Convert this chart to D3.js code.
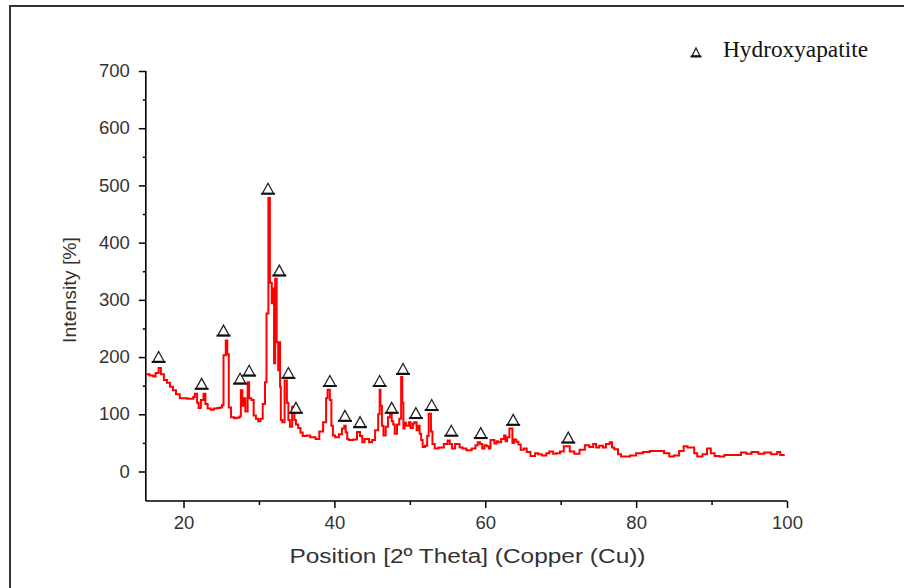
<!DOCTYPE html>
<html>
<head>
<meta charset="utf-8">
<script src="https://cdn.jsdelivr.net/npm/d3@7"></script>
<style>
  html, body { margin: 0; padding: 0; background: #fff; }
  svg { display: block; }
</style>
</head>
<body>
<svg id="chart" width="904" height="588"></svg>
<script>
// ---- data ----
const xTicks = [20, 40, 60, 80, 100];
const xMinorTicks = [30, 50, 70, 90];
const yTicks = [0, 100, 200, 300, 400, 500, 600, 700];
const yMinorTicks = [50, 150, 250, 350, 450, 550, 650];

const theta = [15.0,15.5,16.0,16.3,16.7,17.0,17.4,17.8,18.2,18.6,19.0,19.5,20.0,20.5,21.0,21.3,21.5,21.8,22.0,22.3,22.65,22.9,23.2,23.6,24.0,24.5,24.8,25.1,25.3,25.6,25.8,26.0,26.3,26.7,27.0,27.4,27.6,27.8,28.0,28.2,28.5,28.7,29.0,29.3,29.6,29.9,30.2,30.5,30.8,31.0,31.25,31.45,31.7,31.85,32.0,32.15,32.35,32.55,32.65,32.8,32.9,33.1,33.4,33.7,33.9,34.1,34.4,34.7,34.9,35.2,35.5,35.8,36.3,36.8,37.5,38.0,38.5,38.9,39.1,39.4,39.6,39.8,40.1,40.6,41.0,41.3,41.5,41.7,41.9,42.5,43.0,43.4,43.7,44.0,44.6,45.0,45.4,45.8,46.0,46.1,46.3,46.5,46.8,47.1,47.4,47.6,47.8,48.0,48.3,48.6,48.85,49.0,49.15,49.3,49.5,49.9,50.1,50.4,50.6,50.9,51.1,51.3,51.5,51.7,52.0,52.3,52.5,52.8,53.0,53.3,53.8,54.5,55.0,55.3,55.6,56.0,56.6,57.0,57.5,58.2,58.7,59.0,59.3,59.6,59.9,60.2,60.5,60.7,61.2,61.5,61.7,62.1,62.5,62.7,62.9,63.2,63.6,63.8,64.1,64.4,64.7,65.1,65.5,66.0,66.6,67.0,67.5,68.1,68.5,69.0,69.4,69.9,70.4,71.2,71.8,72.5,73.2,73.8,74.3,74.7,75.1,75.6,76.0,76.5,76.8,77.1,77.6,78.0,78.4,79.2,80.0,80.9,81.8,82.9,83.7,84.4,85.0,85.7,86.3,86.8,87.7,88.1,88.8,89.4,89.9,90.4,91.0,91.7,92.6,93.9,94.6,95.3,96.2,97.0,97.9,98.7,99.1,99.7];
const intensity = [170,168,166,172,181,170,160,155,148,142,135,128,128,127,127,130,136,120,111,125,136,118,110,108,110,111,112,116,203,229,205,112,95,93,94,96,142,115,128,105,156,128,125,98,92,88,92,118,156,276,478,330,294,320,189,337,226,177,226,148,90,86,159,120,90,78,113,90,82,76,68,62,63,60,57,70,86,128,143,125,80,63,60,65,75,80,68,57,55,56,69,62,51,57,51,55,72,100,143,115,80,63,78,95,104,88,82,66,82,92,165,120,75,85,80,86,76,84,86,72,80,66,55,43,45,62,101,70,48,40,42,48,54,48,40,48,42,40,37,40,46,51,48,40,46,44,40,55,49,53,51,57,63,53,60,75,50,56,52,47,38,40,34,27,32,30,28,32,35,31,32,35,44,35,31,38,46,43,48,42,45,42,48,51,42,39,30,26,26,28,32,34,36,36,32,26,28,36,44,42,32,26,30,40,32,27,26,29,29,33,31,34,31,33,30,34,29];

// Hydroxyapatite peak markers (triangle centre positions)
const markerTheta = [16.7,22.4,25.3,27.5,28.7,31.2,32.7,33.9,34.9,39.4,41.4,43.4,46.0,47.6,49.1,50.8,52.9,55.5,59.4,63.7,71.0];
const markerIntensity = [201,154,247,163,177,495,352,173,112,159,98,87,159,112,180,103,117,72,68,91,60];

const legendLabel = "Hydroxyapatite";
const xTitle = "Position [2º Theta] (Copper (Cu))";
const yTitle = "Intensity [%]";

// ---- drawing ----
const svg = d3.select("#chart");

// outer frame (top and left edges visible)
svg.append("path")
  .attr("d", "M10,600 L10,6 L910,6")
  .attr("fill", "none").attr("stroke", "#333").attr("stroke-width", 2);

const x = d3.scaleLinear().domain([15, 100]).range([145.8, 787]);
const y = d3.scaleLinear().domain([0, 700]).range([471.5, 71]);
const axisY = 501;

const tickFont = "Liberation Sans, Arial, sans-serif";

function styleLabels(sel) {
  sel.attr("font-family", tickFont).attr("font-size", 17.5).attr("fill", "#333")
    .attr("textLength", function () { return this.textContent.length * 10.3; })
    .attr("lengthAdjust", "spacingAndGlyphs");
}

// x axis
const gx = svg.append("g").attr("transform", `translate(0,${axisY})`);
gx.append("line").attr("x1", x(15)).attr("x2", x(100)).attr("y1", 0).attr("y2", 0)
  .attr("stroke", "#000").attr("stroke-width", 1.6);
gx.call(d3.axisBottom(x).tickValues(xMinorTicks).tickSize(4).tickFormat(""))
  .call(g => g.select(".domain").remove());
const gxMaj = svg.append("g").attr("transform", `translate(0,${axisY})`)
  .call(d3.axisBottom(x).tickValues(xTicks).tickSize(7).tickPadding(9).tickFormat(d3.format("d")));
gxMaj.select(".domain").remove();
gxMaj.selectAll("text").call(styleLabels);

// y axis
const gy = svg.append("g").attr("transform", `translate(${x(15)},0)`);
gy.append("line").attr("x1", 0).attr("x2", 0).attr("y1", y(700)).attr("y2", axisY)
  .attr("stroke", "#000").attr("stroke-width", 1.6);
gy.call(d3.axisLeft(y).tickValues(yMinorTicks).tickSize(3).tickFormat(""))
  .call(g => g.select(".domain").remove());
const gyMaj = svg.append("g").attr("transform", `translate(${x(15)},0)`)
  .call(d3.axisLeft(y).tickValues(yTicks).tickSize(7).tickPadding(9).tickFormat(d3.format("d")));
gyMaj.select(".domain").remove();
gyMaj.selectAll("text").call(styleLabels);
svg.selectAll("g .tick line").attr("stroke", "#000").attr("stroke-width", 1.5);

// axis titles
svg.append("text")
  .attr("x", 467.5).attr("y", 563)
  .attr("text-anchor", "middle")
  .attr("font-family", tickFont).attr("font-size", 20.5).attr("fill", "#333")
  .attr("textLength", 356).attr("lengthAdjust", "spacingAndGlyphs")
  .text(xTitle);
svg.append("text")
  .attr("transform", "translate(76,290) rotate(-90)")
  .attr("text-anchor", "middle")
  .attr("font-family", tickFont).attr("font-size", 19).attr("fill", "#333")
  .attr("textLength", 106).attr("lengthAdjust", "spacingAndGlyphs")
  .text(yTitle);

// spectrum
const pts = theta.map((t, i) => [t, intensity[i]]);
svg.append("path")
  .datum(pts)
  .attr("fill", "none")
  .attr("stroke", "#ff0000")
  .attr("stroke-width", 2)
  .attr("stroke-linejoin", "miter")
  .attr("d", d3.line().x(d => x(d[0])).y(d => y(d[1])).curve(d3.curveStepAfter));

// triangle markers
function triangle(g, cx, cy, w, h) {
  g.append("path")
    .attr("d", `M${cx - w / 2},${cy + h / 2} L${cx},${cy - h / 2} L${cx + w / 2},${cy + h / 2} Z`)
    .attr("fill", "#fff").attr("stroke", "#222").attr("stroke-width", 1.3)
    .attr("stroke-linejoin", "miter");
  g.append("line")
    .attr("x1", cx - w / 2 - 1.5).attr("x2", cx + w / 2 + 1.5)
    .attr("y1", cy + h / 2 + 0.5).attr("y2", cy + h / 2 + 0.5)
    .attr("stroke", "#111").attr("stroke-width", 2);
}
const gm = svg.append("g");
markerTheta.forEach((t, i) => triangle(gm, x(t), y(markerIntensity[i]), 11, 10));

// legend
const gl = svg.append("g");
triangle(gl, 696, 52, 8, 8);
svg.append("text")
  .attr("x", 723).attr("y", 57)
  .attr("font-family", "Liberation Serif, Times New Roman, serif")
  .attr("font-size", 23).attr("fill", "#111")
  .attr("textLength", 145).attr("lengthAdjust", "spacingAndGlyphs")
  .text(legendLabel);
</script>
</body>
</html>
